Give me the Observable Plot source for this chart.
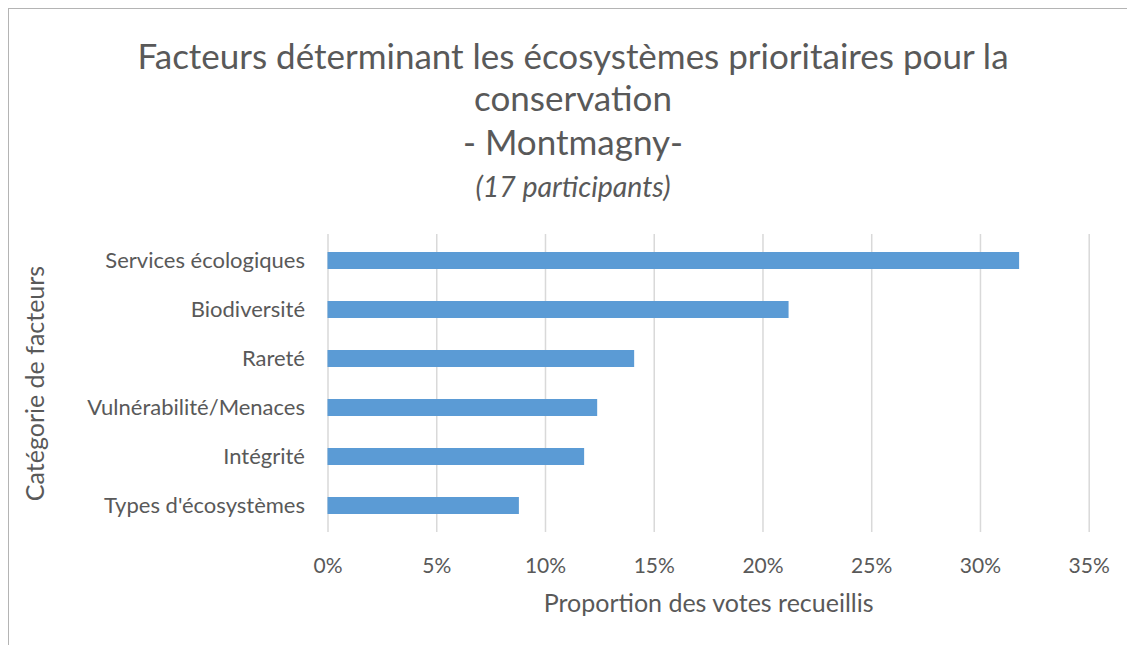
<!DOCTYPE html>
<html>
<head>
<meta charset="utf-8">
<script src="https://cdn.jsdelivr.net/npm/d3@7"></script>
<script src="https://cdn.jsdelivr.net/npm/@observablehq/plot@0.6"></script>
<style>
  html, body { margin: 0; padding: 0; background: #fff; }
  body { width: 1127px; height: 645px; position: relative; overflow: hidden; font-family: Lato, "Open Sans", sans-serif; color: #595959; }
  #frame { position: absolute; left: 8px; top: 8px; width: 1130px; height: 650px; border-top: 1.5px solid #b4b4b4; border-left: 1.5px solid #b4b4b4; }
  .t { position: absolute; left: 19px; width: 1108px; text-align: center; white-space: nowrap; }
  .t1 { font-size: 35px; line-height: 44px; }
  .t4 { font-size: 28.5px; line-height: 34px; font-style: italic; }
  #chart { position: absolute; left: 0; top: 220px; }
</style>
</head>
<body>
<div id="frame"></div>
<div class="t t1" style="top:33px">Facteurs déterminant les écosystèmes prioritaires pour la</div>
<div class="t t1" style="top:75px">conservation</div>
<div class="t t1" style="top:119px">- Montmagny-</div>
<div class="t t4" style="top:169px">(17 participants)</div>
<div id="chart"></div>
<script>
const categories = ["Services écologiques", "Biodiversité", "Rareté", "Vulnérabilité/Menaces", "Intégrité", "Types d'écosystèmes"];
const values = [0.318, 0.212, 0.141, 0.124, 0.118, 0.088];
const xTicks = [0, 0.05, 0.10, 0.15, 0.20, 0.25, 0.30, 0.35];
const xTitle = "Proportion des votes recueillis";
const yTitle = "Catégorie de facteurs";

const data = categories.map((c, i) => ({category: c, value: values[i]}));
const pct = d => Math.round(d * 100) + "%";

const chart = Plot.plot({
  width: 1127,
  height: 410,
  marginTop: 14,
  marginBottom: 98,
  marginLeft: 327.5,
  marginRight: 38.3,
  style: {fontFamily: "Lato, 'Open Sans', sans-serif", fontSize: "21px", color: "#595959", background: "transparent", overflow: "visible"},
  x: {domain: [0, 0.35]},
  y: {domain: categories, paddingInner: 0.65, paddingOuter: 0.325},
  marks: [
    Plot.gridX(xTicks, {stroke: "#d9d9d9", strokeWidth: 1.5, strokeOpacity: 1}),
    Plot.barX(data, {x: "value", y: "category", fill: "#5b9bd5"}),
    Plot.axisX(xTicks, {tickSize: 0, tickPadding: 26, tickFormat: pct, label: null, fontSize: 21}),
    Plot.axisY({tickSize: 0, tickPadding: 23, label: null, fontSize: 22}),
    Plot.text([xTitle], {frameAnchor: "bottom", dy: 71, text: d => d, textAnchor: "middle", lineAnchor: "middle", fontSize: 25, fill: "#595959"}),
    Plot.text([yTitle], {frameAnchor: "left", dx: -292.5, text: d => d, rotate: -90, textAnchor: "middle", lineAnchor: "middle", fontSize: 25, fill: "#595959"})
  ]
});
document.getElementById("chart").appendChild(chart);
</script>
</body>
</html>
